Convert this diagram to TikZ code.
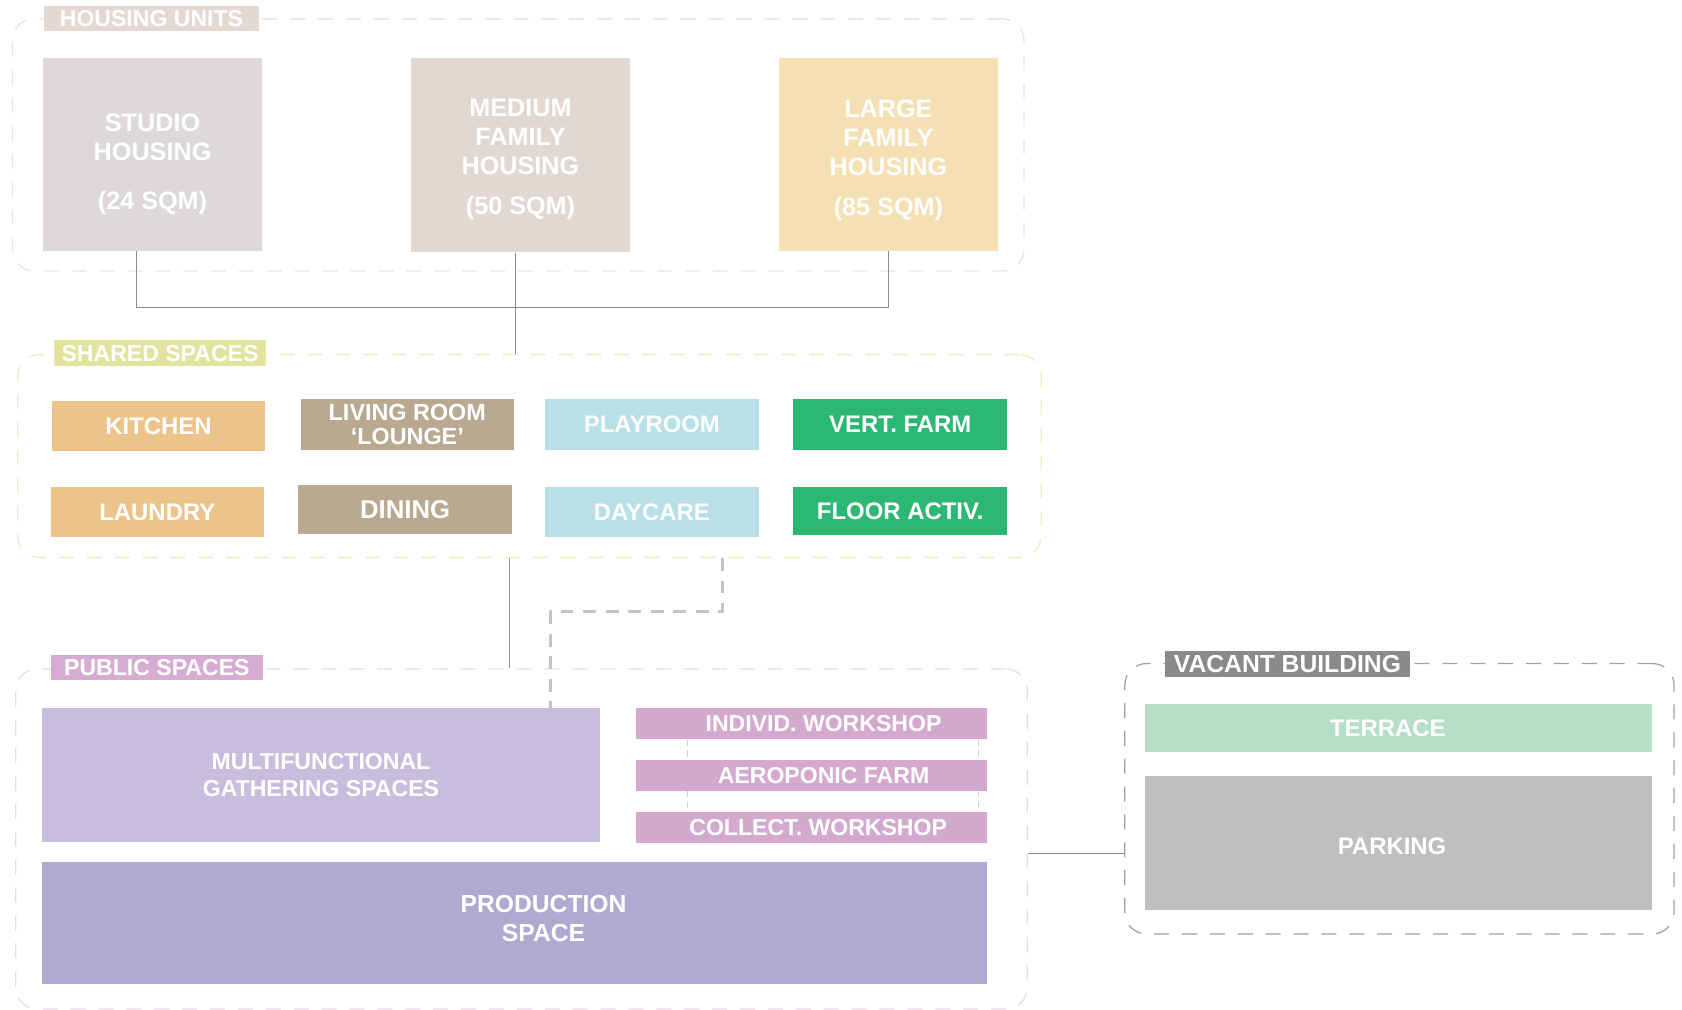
\documentclass[tikz,border=0pt]{standalone}
\usepackage{fontspec}
\setmainfont{Liberation Sans}
\usetikzlibrary{positioning}

\definecolor{housingline}{HTML}{ECE2DD}
\definecolor{housingtag}{HTML}{E4D8D2}
\definecolor{studiofill}{HTML}{DCD8DC}
\definecolor{mediumfill}{HTML}{E2D8D2}
\definecolor{largefill}{HTML}{F4E0B2}
\definecolor{sharedline}{HTML}{ECEEC6}
\definecolor{sharedtag}{HTML}{E2E39F}
\definecolor{kitchenfill}{HTML}{ECC489}
\definecolor{livingfill}{HTML}{B9A991}
\definecolor{playfill}{HTML}{B9DFE8}
\definecolor{farmfill}{HTML}{2DB774}
\definecolor{publicline}{HTML}{E8DAE8}
\definecolor{publictag}{HTML}{D6ACD3}
\definecolor{multifill}{HTML}{C9BDDD}
\definecolor{workshopfill}{HTML}{D4A9CE}
\definecolor{productionfill}{HTML}{B0AAD0}
\definecolor{vacantline}{HTML}{A0A0A0}
\definecolor{vacanttag}{HTML}{8A8A8A}
\definecolor{terracefill}{HTML}{B7DFC8}
\definecolor{parkingfill}{HTML}{BFBFBF}
\definecolor{linkgray}{HTML}{8C8C8C}
\definecolor{dashgray}{HTML}{C4C4C4}

\begin{document}
\begin{tikzpicture}[x=1pt, y=-1pt,
    room/.style={anchor=north west, inner sep=0pt, text=white, align=center,
                 font=\fontsize{22.3}{25}\selectfont\bfseries},
    roomtext/.style={inner sep=0pt, text=white, align=center,
                 font=\fontsize{22.3}{25}\selectfont\bfseries},
    housingtext/.style={roomtext, font=\fontsize{23.5}{27}\selectfont\bfseries},
    grouplabel/.style={anchor=north west, inner sep=0pt, text=white, minimum height=24pt,
                 font=\fontsize{21.5}{24}\selectfont\bfseries},
    groupframe/.style={anchor=north west, inner sep=0pt, line width=1.2pt,
                 rounded corners=20pt, dash pattern=on 14pt off 12pt},
    link/.style={draw=linkgray, line width=1.1pt},
    softlink/.style={draw=dashgray, line width=2.5pt, dash pattern=on 12pt off 9pt},
    faintlink/.style={draw=dashgray!80, line width=0.8pt, dash pattern=on 6pt off 4pt}]

    \useasboundingbox (0,0) rectangle (1568,941);

    % Group frames
    \node[groupframe, draw=housingline, minimum width=943pt, minimum height=235pt] (housingframe) at (11,17) {};
    \node[groupframe, draw=sharedline, minimum width=954pt, minimum height=189pt] (sharedframe) at (16,330) {};
    \node[groupframe, draw=publicline, minimum width=943pt, minimum height=317pt] (publicframe) at (14,623) {};
    \node[groupframe, draw=vacantline, minimum width=512pt, minimum height=252pt] (vacantframe) at (1048,618) {};

    % Housing units
    \node[room, fill=studiofill, minimum width=204pt, minimum height=180pt,
          label={[housingtext, yshift=-9pt]center:{STUDIO\\HOUSING\\[18pt](24 SQM)}}] (studio) at (40,54) {};
    \node[room, fill=mediumfill, minimum width=204pt, minimum height=181pt,
          label={[housingtext, yshift=-4pt]center:{MEDIUM\\FAMILY\\HOUSING\\[10pt](50 SQM)}}] (medium) at (383,54) {};
    \node[room, fill=largefill, minimum width=204pt, minimum height=180pt,
          label={[housingtext, yshift=-5pt]center:{LARGE\\FAMILY\\HOUSING\\[10pt](85 SQM)}}] (large) at (726,54) {};

    % Shared spaces
    \node[room, fill=kitchenfill, minimum width=199pt, minimum height=46pt] (kitchen) at (48,374) {KITCHEN};
    \node[room, fill=livingfill, minimum width=199pt, minimum height=47pt,
          font=\fontsize{21.8}{23}\selectfont\bfseries] (living) at (280,372) {LIVING ROOM\\‘LOUNGE’};
    \node[room, fill=playfill, minimum width=199pt, minimum height=47pt] (playroom) at (508,372) {PLAYROOM};
    \node[room, fill=farmfill, minimum width=200pt, minimum height=47pt] (vertfarm) at (739,372) {VERT. FARM};
    \node[room, fill=kitchenfill, minimum width=199pt, minimum height=46pt] (laundry) at (47,454) {LAUNDRY};
    \node[room, fill=livingfill, minimum width=199pt, minimum height=46pt,
          font=\fontsize{24}{25}\selectfont\bfseries] (dining) at (278,452) {DINING};
    \node[room, fill=playfill, minimum width=199pt, minimum height=46pt] (daycare) at (508,454) {DAYCARE};
    \node[room, fill=farmfill, minimum width=200pt, minimum height=45pt] (flooractiv) at (739,454) {FLOOR ACTIV.};

    % Public spaces
    \node[room, fill=multifill, minimum width=520pt, minimum height=125pt,
          font=\fontsize{21.5}{25}\selectfont\bfseries] (multi) at (39,660)
          {MULTIFUNCTIONAL\\GATHERING SPACES};
    \node[room, fill=workshopfill, minimum width=327pt, minimum height=29pt,
          label={[roomtext, font=\fontsize{21.5}{24}\selectfont\bfseries, xshift=11pt]center:INDIVID. WORKSHOP}] (indiv) at (593,660) {};
    \node[room, fill=workshopfill, minimum width=327pt, minimum height=29pt,
          label={[roomtext, font=\fontsize{21.5}{24}\selectfont\bfseries, xshift=11pt]center:AEROPONIC FARM}] (aero) at (593,708) {};
    \node[room, fill=workshopfill, minimum width=327pt, minimum height=29pt,
          label={[roomtext, font=\fontsize{21.5}{24}\selectfont\bfseries, xshift=6pt]center:COLLECT. WORKSHOP}] (collect) at (593,757) {};
    \node[room, fill=productionfill, minimum width=881pt, minimum height=114pt,
          label={[roomtext, font=\fontsize{23}{27}\selectfont\bfseries, xshift=27pt, yshift=4pt]center:{PRODUCTION\\SPACE}}] (production) at (39,803) {};

    % Vacant building
    \node[room, fill=terracefill, minimum width=473pt, minimum height=45pt,
          label={[roomtext, xshift=-10pt]center:TERRACE}] (terrace) at (1067,656) {};
    \node[room, fill=parkingfill, minimum width=473pt, minimum height=125pt,
          label={[roomtext, xshift=-6pt, yshift=-3pt]center:PARKING}] (parking) at (1067,723) {};

    % Links between groups
    \coordinate (studiofoot) at ([xshift=-15pt]studio.south);
    \coordinate (mediumfoot) at ([xshift=-5pt]medium.south);
    \coordinate (sharedfoot) at ([xshift=-19pt]sharedframe.south);
    \coordinate (sharedout) at ([xshift=180pt]sharedframe.south);
    \coordinate (multitop) at ([xshift=214pt]multi.north);
    \coordinate (publicside) at ([yshift=-13.5pt]publicframe.east);
    \draw[link] (studiofoot) -- ++(0,52) -| (large.south);
    \draw[link] (mediumfoot) -- (mediumfoot |- sharedframe.north);
    \draw[link] (sharedfoot) -- (sharedfoot |- publicframe.north);
    \draw[softlink] (sharedout) -- ++(0,50) -| (multitop);
    \draw[link] (publicside) -- (publicside -| vacantframe.west);

    % Links between workshops
    \draw[faintlink] ([xshift=48pt]indiv.south west) -- ([xshift=48pt]aero.north west);
    \draw[faintlink] ([xshift=48pt]aero.south west) -- ([xshift=48pt]collect.north west);
    \draw[faintlink] ([xshift=-8pt]indiv.south east) -- ([xshift=-8pt]aero.north east);
    \draw[faintlink] ([xshift=-8pt]aero.south east) -- ([xshift=-8pt]collect.north east);

    % Group labels
    \node[grouplabel, fill=housingtag, minimum width=200pt] (housinglabel) at (41,5) {HOUSING UNITS};
    \node[grouplabel, fill=sharedtag, minimum width=198pt] (sharedlabel) at (50,317) {SHARED SPACES};
    \node[grouplabel, fill=publictag, minimum width=198pt] (publiclabel) at (47,610) {PUBLIC SPACES};
    \node[grouplabel, fill=vacanttag, minimum width=228pt, font=\fontsize{23}{24}\selectfont\bfseries]
          (vacantlabel) at (1086,607) {VACANT BUILDING};

\end{tikzpicture}
\end{document}
